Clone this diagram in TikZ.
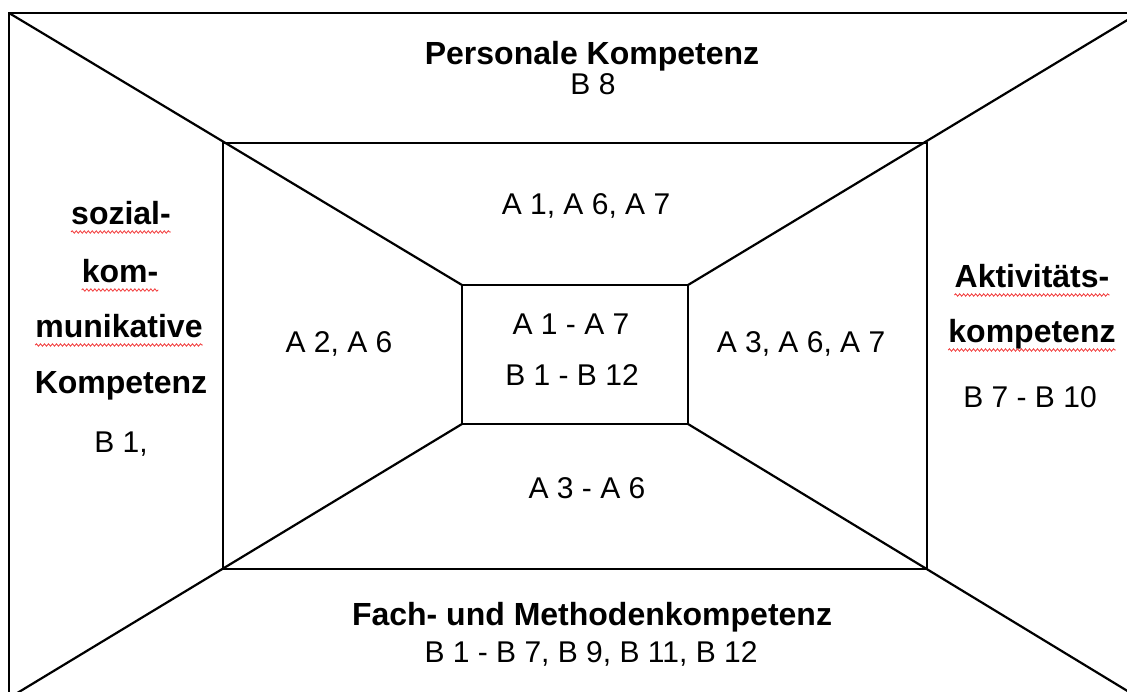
\documentclass[tikz,border=0pt]{standalone}
\usepackage{fontspec}
\setmainfont{Liberation Sans}
\usepackage{tikz}
\usetikzlibrary{decorations.pathmorphing}
\definecolor{ink}  {HTML}{000000}
\definecolor{spell}{HTML}{F23A3A}
\tikzset{
  % --- nodes
  txt/.style   = {inner sep=0pt, anchor=base, text=ink, font=\fontsize{30}{35}\selectfont},
  head/.style  = {txt, font=\fontsize{32}{37}\selectfont\bfseries},
  % --- lines
  frame/.style = {line width=2.2pt, draw=ink},
  mid/.style   = {line width=1.2pt, draw=ink},
  wavy/.style  = {draw=spell, line width=0.8pt, decorate,
                  decoration={snake, amplitude=1.2pt, segment length=4pt}},
}

\begin{document}
\begin{tikzpicture}[x=1pt,y=-1pt]
  \useasboundingbox (0,0) rectangle (1127,692);
  \clip (0,0) rectangle (1127,692);
  % corners: outer frame, middle frame, inner box
  \coordinate (o-nw) at (9,13);    \coordinate (o-ne) at (1139,13);
  \coordinate (o-se) at (1139,698); \coordinate (o-sw) at (9,698);
  \coordinate (m-nw) at (223,143);  \coordinate (m-ne) at (927,143);
  \coordinate (m-se) at (927,569);  \coordinate (m-sw) at (223,569);
  \coordinate (i-nw) at (462,285);  \coordinate (i-ne) at (688,285);
  \coordinate (i-se) at (688,424);  \coordinate (i-sw) at (462,424);
  \draw[frame] (o-nw) rectangle (o-se);
  \draw[mid]   (m-nw) rectangle (m-se);
  \draw[frame] (i-nw) rectangle (i-se);
  \foreach \c in {nw,ne,se,sw}
    \draw[frame] (o-\c) -- (i-\c);

  % outer ring
  \node[head] (pers)   at (592,65)  {Personale Kompetenz};
  \node[txt]  (pers-b) at (593,95)  {B 8};
  \node[head] (soz)    at (121,225) {sozial-};
  \node[head] (kom)    at (120,283) {kom-};
  \node[head] (muni)   at (119,338) {munikative};
  \node[head] (soz-k)  at (121,393) {Kompetenz};
  \node[txt]  (soz-b)  at (121,452) {B 1,};
  \node[head] (akt)    at (1032,288) {Aktivitäts-};
  \node[head] (akt-k)  at (1032,343) {kompetenz};
  \node[txt]  (akt-b)  at (1030,407) {B 7 - B 10};
  \node[head] (fach)   at (592,625) {Fach- und Methodenkompetenz};
  \node[txt]  (fach-b) at (591,662) {B 1 - B 7, B 9, B 11, B 12};

  % middle ring
  \node[txt] (a-top)   at (586,215) {A 1, A 6, A 7};
  \node[txt] (a-left)  at (339,353) {A 2, A 6};
  \node[txt] (a-right) at (801,353) {A 3, A 6, A 7};
  \node[txt] (a-bot)   at (587,498) {A 3 - A 6};

  % centre
  \node[txt] (c1) at (571,335) {A 1 - A 7};
  \node[txt] (c2) at (572,385) {B 1 - B 12};

  \foreach \n in {soz,kom,muni,akt,akt-k}
    \draw[wavy] ([yshift=-7pt]\n.base west) -- ([yshift=-7pt]\n.base east);
\end{tikzpicture}
\end{document}
